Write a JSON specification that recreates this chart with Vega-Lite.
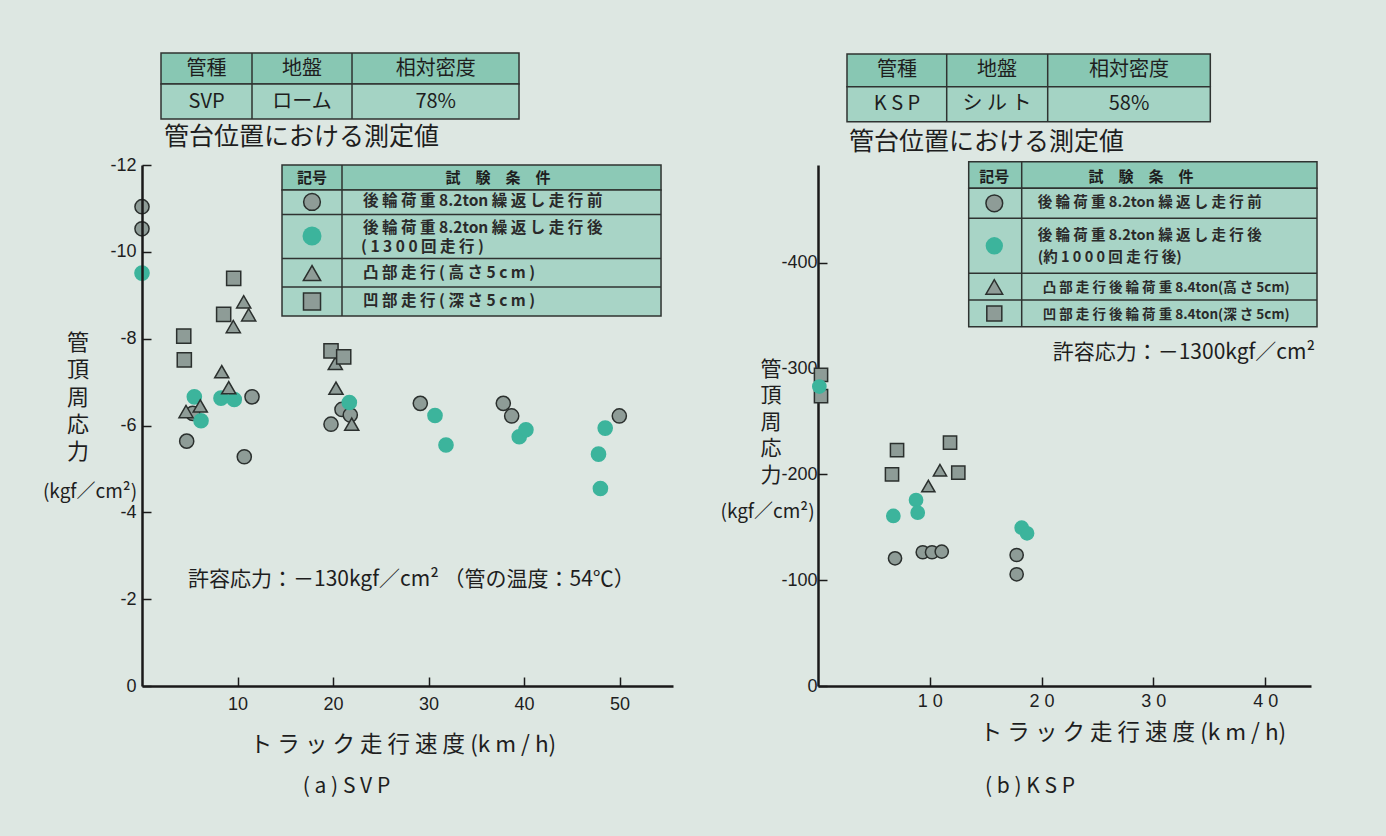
{
  "$schema": "https://vega.github.io/schema/vega-lite/v6.json",
  "padding": 0,
  "autosize": {"type": "pad"},
  "bounds": "flush",
  "spacing": 145,
  "background": "#dde7e2",
  "config": {
    "view": {"stroke": null},
    "text": {"font": "Noto Sans CJK JP", "fill": "#1e1e1e", "baseline": "middle", "align": "center", "fontSize": 20},
    "rule": {"stroke": "#2f3331", "strokeWidth": 1.5},
    "rect": {"stroke": "#2f3331", "strokeWidth": 1.5},
    "axis": {
      "grid": false, "title": null, "domainColor": "#1a1a1a", "domainWidth": 2.5,
      "tickColor": "#1a1a1a", "tickWidth": 1.5, "tickSize": -9,
      "labelFont": "Liberation Sans", "labelFontSize": 18, "labelColor": "#1e1e1e",
      "labelFlush": false, "labelOverlap": false
    }
  },
  "datasets": {
    "one": [{}],
    "svp": [
      {"speed": 0, "stress": -11.04, "cond": "走行前"},
      {"speed": 0, "stress": -10.53, "cond": "走行前"},
      {"speed": 4.68, "stress": -5.64, "cond": "走行前"},
      {"speed": 5.31, "stress": -6.28, "cond": "走行前"},
      {"speed": 11.52, "stress": -6.66, "cond": "走行前"},
      {"speed": 10.71, "stress": -5.28, "cond": "走行前"},
      {"speed": 19.79, "stress": -6.03, "cond": "走行前"},
      {"speed": 20.94, "stress": -6.37, "cond": "走行前"},
      {"speed": 21.81, "stress": -6.24, "cond": "走行前"},
      {"speed": 29.14, "stress": -6.51, "cond": "走行前"},
      {"speed": 37.83, "stress": -6.51, "cond": "走行前"},
      {"speed": 38.71, "stress": -6.22, "cond": "走行前"},
      {"speed": 49.98, "stress": -6.22, "cond": "走行前"},
      {"speed": 0, "stress": -9.51, "cond": "走行後"},
      {"speed": 5.48, "stress": -6.66, "cond": "走行後"},
      {"speed": 6.18, "stress": -6.11, "cond": "走行後"},
      {"speed": 8.27, "stress": -6.63, "cond": "走行後"},
      {"speed": 9.66, "stress": -6.6, "cond": "走行後"},
      {"speed": 21.71, "stress": -6.53, "cond": "走行後"},
      {"speed": 30.68, "stress": -6.23, "cond": "走行後"},
      {"speed": 31.83, "stress": -5.55, "cond": "走行後"},
      {"speed": 39.5, "stress": -5.74, "cond": "走行後"},
      {"speed": 40.2, "stress": -5.9, "cond": "走行後"},
      {"speed": 48.5, "stress": -5.94, "cond": "走行後"},
      {"speed": 47.8, "stress": -5.34, "cond": "走行後"},
      {"speed": 48.0, "stress": -4.55, "cond": "走行後"},
      {"speed": 4.61, "stress": -6.32, "cond": "凸部"},
      {"speed": 6.1, "stress": -6.45, "cond": "凸部"},
      {"speed": 8.35, "stress": -7.24, "cond": "凸部"},
      {"speed": 9.08, "stress": -6.87, "cond": "凸部"},
      {"speed": 10.65, "stress": -8.85, "cond": "凸部"},
      {"speed": 11.17, "stress": -8.55, "cond": "凸部"},
      {"speed": 9.56, "stress": -8.28, "cond": "凸部"},
      {"speed": 20.24, "stress": -7.43, "cond": "凸部"},
      {"speed": 20.31, "stress": -6.86, "cond": "凸部"},
      {"speed": 21.96, "stress": -6.03, "cond": "凸部"},
      {"speed": 4.37, "stress": -8.06, "cond": "凹部"},
      {"speed": 4.43, "stress": -7.51, "cond": "凹部"},
      {"speed": 9.6, "stress": -9.39, "cond": "凹部"},
      {"speed": 8.55, "stress": -8.56, "cond": "凹部"},
      {"speed": 19.79, "stress": -7.72, "cond": "凹部"},
      {"speed": 21.12, "stress": -7.58, "cond": "凹部"}
    ],
    "ksp": [
      {"speed": 0.27, "stress": -294, "cond": "凹部"},
      {"speed": 0.27, "stress": -274, "cond": "凹部"},
      {"speed": 7.07, "stress": -223, "cond": "凹部"},
      {"speed": 6.62, "stress": -200, "cond": "凹部"},
      {"speed": 11.81, "stress": -230, "cond": "凹部"},
      {"speed": 12.55, "stress": -201.6, "cond": "凹部"},
      {"speed": 6.89, "stress": -120.7, "cond": "走行前"},
      {"speed": 9.37, "stress": -126.4, "cond": "走行前"},
      {"speed": 10.2, "stress": -126.4, "cond": "走行前"},
      {"speed": 11.07, "stress": -127, "cond": "走行前"},
      {"speed": 17.77, "stress": -123.8, "cond": "走行前"},
      {"speed": 17.77, "stress": -105.6, "cond": "走行前"},
      {"speed": 10.91, "stress": -204, "cond": "凸部"},
      {"speed": 9.87, "stress": -189, "cond": "凸部"},
      {"speed": 0.12, "stress": -283, "cond": "走行後"},
      {"speed": 6.74, "stress": -160.7, "cond": "走行後"},
      {"speed": 8.77, "stress": -175.8, "cond": "走行後"},
      {"speed": 8.92, "stress": -163.8, "cond": "走行後"},
      {"speed": 18.22, "stress": -149.6, "cond": "走行後"},
      {"speed": 18.7, "stress": -144.3, "cond": "走行後"}
    ]
  },
  "hconcat": [
    {
      "width": 531,
      "height": 521,
      "layer": [
        {"data": {"name": "one"}, "mark": {"type": "rect", "fill": "#dde7e2", "strokeWidth": 0}, "encoding": {"x": {"datum": -14.764, "axis": {"zindex": 1}}, "x2": {"datum": 130.366}, "y": {"datum": -15.8, "axis": {"zindex": 1}}, "y2": {"datum": 3.455}}},

        {"data": {"name": "one"}, "mark": {"type": "rect", "fill": "#88c7b3"}, "encoding": {"x": {"datum": 1.99}, "x2": {"datum": 39.476}, "y": {"datum": -14.58}, "y2": {"datum": -13.865}}},
        {"data": {"name": "one"}, "mark": {"type": "rect", "fill": "#a4d3c4"}, "encoding": {"x": {"datum": 1.99}, "x2": {"datum": 39.476}, "y": {"datum": -13.865}, "y2": {"datum": -13.059}}},
        {"data": {"name": "one"}, "mark": {"type": "rule"}, "encoding": {"x": {"datum": 11.518}, "y": {"datum": -14.58}, "y2": {"datum": -13.059}}},
        {"data": {"name": "one"}, "mark": {"type": "rule"}, "encoding": {"x": {"datum": 21.99}, "y": {"datum": -14.58}, "y2": {"datum": -13.059}}},
        {"data": {"name": "one"}, "mark": {"type": "text", "text": "管種"}, "encoding": {"x": {"datum": 6.754}, "y": {"datum": -14.218}}},
        {"data": {"name": "one"}, "mark": {"type": "text", "text": "地盤"}, "encoding": {"x": {"datum": 16.754}, "y": {"datum": -14.218}}},
        {"data": {"name": "one"}, "mark": {"type": "text", "text": "相対密度"}, "encoding": {"x": {"datum": 30.754}, "y": {"datum": -14.218}}},
        {"data": {"name": "one"}, "mark": {"type": "text", "text": "SVP"}, "encoding": {"x": {"datum": 6.754}, "y": {"datum": -13.462}}},
        {"data": {"name": "one"}, "mark": {"type": "text", "text": "ローム"}, "encoding": {"x": {"datum": 16.754}, "y": {"datum": -13.462}}},
        {"data": {"name": "one"}, "mark": {"type": "text", "text": "78%"}, "encoding": {"x": {"datum": 30.754}, "y": {"datum": -13.462}}},
        {"data": {"name": "one"}, "mark": {"type": "text", "text": "管台位置における測定値", "fontSize": 25, "align": "left"}, "encoding": {"x": {"datum": 2.304}, "y": {"datum": -12.645}}},

        {"data": {"name": "one"}, "mark": {"type": "rect", "fill": "#8cc9b6"}, "encoding": {"x": {"datum": 14.66}, "x2": {"datum": 54.346}, "y": {"datum": -12.0}, "y2": {"datum": -11.424}}},
        {"data": {"name": "one"}, "mark": {"type": "rect", "fill": "#a8d4c6"}, "encoding": {"x": {"datum": 14.66}, "x2": {"datum": 54.346}, "y": {"datum": -11.424}, "y2": {"datum": -8.522}}},
        {"data": {"name": "one"}, "mark": {"type": "rule"}, "encoding": {"x": {"datum": 14.66}, "x2": {"datum": 54.346}, "y": {"datum": -10.86}}},
        {"data": {"name": "one"}, "mark": {"type": "rule"}, "encoding": {"x": {"datum": 14.66}, "x2": {"datum": 54.346}, "y": {"datum": -9.846}}},
        {"data": {"name": "one"}, "mark": {"type": "rule"}, "encoding": {"x": {"datum": 14.66}, "x2": {"datum": 54.346}, "y": {"datum": -9.19}}},
        {"data": {"name": "one"}, "mark": {"type": "rule"}, "encoding": {"x": {"datum": 20.942}, "y": {"datum": -12.0}, "y2": {"datum": -8.522}}},
        {"data": {"name": "one"}, "mark": {"type": "point", "shape": "circle", "filled": true, "fill": "#8e9c97", "stroke": "#2b302e", "strokeWidth": 1.5, "size": 280, "opacity": 1}, "encoding": {"x": {"datum": 17.801}, "y": {"datum": -11.148}}},
        {"data": {"name": "one"}, "mark": {"type": "point", "shape": "circle", "filled": true, "fill": "#3cb49c", "strokeWidth": 0, "size": 360, "opacity": 1}, "encoding": {"x": {"datum": 17.801}, "y": {"datum": -10.365}}},
        {"data": {"name": "one"}, "mark": {"type": "point", "shape": "triangle-up", "filled": true, "fill": "#8e9c97", "stroke": "#2b302e", "strokeWidth": 1.5, "size": 300, "opacity": 1}, "encoding": {"x": {"datum": 17.801}, "y": {"datum": -9.512}}},
        {"data": {"name": "one"}, "mark": {"type": "point", "shape": "square", "filled": true, "fill": "#8e9c97", "stroke": "#2b302e", "strokeWidth": 1.5, "size": 290, "opacity": 1}, "encoding": {"x": {"datum": 17.801}, "y": {"datum": -8.856}}},
        {"data": {"name": "one"}, "mark": {"type": "text", "text": "記号", "fontSize": 15, "fontWeight": "bold"}, "encoding": {"x": {"datum": 17.801}, "y": {"datum": -11.7}}},
        {"data": {"name": "one"}, "mark": {"type": "text", "text": "試　験　条　件", "fontSize": 15, "fontWeight": "bold"}, "encoding": {"x": {"datum": 37.277}, "y": {"datum": -11.7}}},
        {"data": {"name": "one"}, "mark": {"type": "text", "text": "後 輪 荷 重 8.2ton 繰 返 し 走 行 前", "fontSize": 15.5, "fontWeight": "bold", "align": "left", "fill": "#2a2a2a"}, "encoding": {"x": {"datum": 23.141}, "y": {"datum": -11.16}}},
        {"data": {"name": "one"}, "mark": {"type": "text", "text": "後 輪 荷 重 8.2ton 繰 返 し 走 行 後", "fontSize": 15.5, "fontWeight": "bold", "align": "left", "fill": "#2a2a2a"}, "encoding": {"x": {"datum": 23.141}, "y": {"datum": -10.549}}},
        {"data": {"name": "one"}, "mark": {"type": "text", "text": "( 1 3 0 0 回 走 行 )", "fontSize": 15.5, "fontWeight": "bold", "align": "left", "fill": "#2a2a2a"}, "encoding": {"x": {"datum": 22.932}, "y": {"datum": -10.111}}},
        {"data": {"name": "one"}, "mark": {"type": "text", "text": "凸 部 走 行 ( 高 さ 5 c m )", "fontSize": 15.5, "fontWeight": "bold", "align": "left", "fill": "#2a2a2a"}, "encoding": {"x": {"datum": 23.141}, "y": {"datum": -9.512}}},
        {"data": {"name": "one"}, "mark": {"type": "text", "text": "凹 部 走 行 ( 深 さ 5 c m )", "fontSize": 15.5, "fontWeight": "bold", "align": "left", "fill": "#2a2a2a"}, "encoding": {"x": {"datum": 23.141}, "y": {"datum": -8.868}}},

        {"data": {"name": "one"}, "mark": {"type": "text", "text": ["管", "頂", "周", "応", "力"], "fontSize": 22, "lineHeight": 27.3}, "encoding": {"x": {"datum": -6.702}, "y": {"datum": -7.9}}},
        {"data": {"name": "one"}, "mark": {"type": "text", "text": "(kgf／cm²)", "fontSize": 19}, "encoding": {"x": {"datum": -5.445}, "y": {"datum": -4.468}}},
        {"data": {"name": "one"}, "mark": {"type": "text", "text": "ト ラ ッ ク 走 行 速 度 (k m / h)", "fontSize": 22.5}, "encoding": {"x": {"datum": 27.33}, "y": {"datum": 1.359}}},
        {"data": {"name": "one"}, "mark": {"type": "text", "text": "( a ) S V P", "fontSize": 21}, "encoding": {"x": {"datum": 21.41}, "y": {"datum": 2.326}}},
        {"data": {"name": "one"}, "mark": {"type": "text", "text": "許容応力：－130kgf／cm² （管の温度：54℃）", "fontSize": 21, "align": "left"}, "encoding": {"x": {"datum": 4.817}, "y": {"datum": -2.441}}},

        {
          "data": {"name": "svp"},
          "mark": {"type": "point", "filled": true, "size": 200, "strokeWidth": 1.5, "opacity": 1},
          "encoding": {
            "x": {"field": "speed", "type": "quantitative", "scale": {"domain": [0, 55.6], "nice": false, "zero": false}, "axis": {"values": [10, 20, 30, 40, 50], "labelPadding": 18, "zindex": 1}},
            "y": {"field": "stress", "type": "quantitative", "scale": {"domain": [0, -12], "nice": false, "zero": false}, "axis": {"values": [-12, -10, -8, -6, -4, -2, 0], "labelExpr": "'' + datum.value", "labelPadding": 15, "zindex": 1}},
            "shape": {"field": "cond", "type": "nominal", "scale": {"domain": ["走行前", "走行後", "凸部", "凹部"], "range": ["circle", "circle", "triangle-up", "square"]}, "legend": null},
            "fill": {"field": "cond", "type": "nominal", "scale": {"domain": ["走行前", "走行後", "凸部", "凹部"], "range": ["#8e9c97", "#3cb49c", "#8e9c97", "#8e9c97"]}, "legend": null},
            "stroke": {"field": "cond", "type": "nominal", "scale": {"domain": ["走行前", "走行後", "凸部", "凹部"], "range": ["#2b302e", "#3cb49c", "#2b302e", "#2b302e"]}, "legend": null}
          }
        }
      ]
    },
    {
      "width": 493,
      "height": 521,
      "layer": [
        {"data": {"name": "one"}, "mark": {"type": "rect", "fill": "#88c7b3"}, "encoding": {"x": {"datum": 2.594}, "x2": {"datum": 35.093}, "y": {"datum": -597.35}, "y2": {"datum": -566.45}}},
        {"data": {"name": "one"}, "mark": {"type": "rect", "fill": "#a4d3c4"}, "encoding": {"x": {"datum": 2.594}, "x2": {"datum": 35.093}, "y": {"datum": -566.45}, "y2": {"datum": -533.36}}},
        {"data": {"name": "one"}, "mark": {"type": "rule"}, "encoding": {"x": {"datum": 11.513}, "y": {"datum": -597.35}, "y2": {"datum": -533.36}}},
        {"data": {"name": "one"}, "mark": {"type": "rule"}, "encoding": {"x": {"datum": 20.547}, "y": {"datum": -597.35}, "y2": {"datum": -533.36}}},
        {"data": {"name": "one"}, "mark": {"type": "text", "text": "管種"}, "encoding": {"x": {"datum": 7.067}, "y": {"datum": -582.23}}},
        {"data": {"name": "one"}, "mark": {"type": "text", "text": "地盤"}, "encoding": {"x": {"datum": 16.012}, "y": {"datum": -582.23}}},
        {"data": {"name": "one"}, "mark": {"type": "text", "text": "相対密度"}, "encoding": {"x": {"datum": 27.82}, "y": {"datum": -582.23}}},
        {"data": {"name": "one"}, "mark": {"type": "text", "text": "K S P"}, "encoding": {"x": {"datum": 7.067}, "y": {"datum": -550.09}}},
        {"data": {"name": "one"}, "mark": {"type": "text", "text": "シ ル ト"}, "encoding": {"x": {"datum": 16.012}, "y": {"datum": -550.09}}},
        {"data": {"name": "one"}, "mark": {"type": "text", "text": "58%"}, "encoding": {"x": {"datum": 27.82}, "y": {"datum": -550.09}}},
        {"data": {"name": "one"}, "mark": {"type": "text", "text": "管台位置における測定値", "fontSize": 25, "align": "left"}, "encoding": {"x": {"datum": 2.773}, "y": {"datum": -514.46}}},

        {"data": {"name": "one"}, "mark": {"type": "rect", "fill": "#8cc9b6"}, "encoding": {"x": {"datum": 13.481}, "x2": {"datum": 44.637}, "y": {"datum": -495.56}, "y2": {"datum": -470.42}}},
        {"data": {"name": "one"}, "mark": {"type": "rect", "fill": "#a8d4c6"}, "encoding": {"x": {"datum": 13.481}, "x2": {"datum": 44.637}, "y": {"datum": -470.42}, "y2": {"datum": -339.6}}},
        {"data": {"name": "one"}, "mark": {"type": "rule"}, "encoding": {"x": {"datum": 13.481}, "x2": {"datum": 44.637}, "y": {"datum": -442.06}}},
        {"data": {"name": "one"}, "mark": {"type": "rule"}, "encoding": {"x": {"datum": 13.481}, "x2": {"datum": 44.637}, "y": {"datum": -390.08}}},
        {"data": {"name": "one"}, "mark": {"type": "rule"}, "encoding": {"x": {"datum": 13.481}, "x2": {"datum": 44.637}, "y": {"datum": -364.84}}},
        {"data": {"name": "one"}, "mark": {"type": "rule"}, "encoding": {"x": {"datum": 18.222}, "y": {"datum": -495.56}, "y2": {"datum": -339.6}}},
        {"data": {"name": "one"}, "mark": {"type": "point", "shape": "circle", "filled": true, "fill": "#8e9c97", "stroke": "#2b302e", "strokeWidth": 1.5, "size": 280, "opacity": 1}, "encoding": {"x": {"datum": 15.771}, "y": {"datum": -456.24}}},
        {"data": {"name": "one"}, "mark": {"type": "point", "shape": "circle", "filled": true, "fill": "#3cb49c", "strokeWidth": 0, "size": 300, "opacity": 1}, "encoding": {"x": {"datum": 15.771}, "y": {"datum": -416.07}}},
        {"data": {"name": "one"}, "mark": {"type": "point", "shape": "triangle-up", "filled": true, "fill": "#8e9c97", "stroke": "#2b302e", "strokeWidth": 1.5, "size": 280, "opacity": 1}, "encoding": {"x": {"datum": 15.771}, "y": {"datum": -377.13}}},
        {"data": {"name": "one"}, "mark": {"type": "point", "shape": "square", "filled": true, "fill": "#8e9c97", "stroke": "#2b302e", "strokeWidth": 1.5, "size": 225, "opacity": 1}, "encoding": {"x": {"datum": 15.771}, "y": {"datum": -352.08}}},
        {"data": {"name": "one"}, "mark": {"type": "text", "text": "記号", "fontSize": 15, "fontWeight": "bold"}, "encoding": {"x": {"datum": 15.771}, "y": {"datum": -480.81}}},
        {"data": {"name": "one"}, "mark": {"type": "text", "text": "試　験　条　件", "fontSize": 15, "fontWeight": "bold"}, "encoding": {"x": {"datum": 28.894}, "y": {"datum": -480.81}}},
        {"data": {"name": "one"}, "mark": {"type": "text", "text": "後 輪 荷 重 8.2ton 繰 返 し 走 行 前", "fontSize": 14.5, "fontWeight": "bold", "align": "left", "fill": "#2a2a2a"}, "encoding": {"x": {"datum": 19.653}, "y": {"datum": -456.24}}},
        {"data": {"name": "one"}, "mark": {"type": "text", "text": "後 輪 荷 重 8.2ton 繰 返 し 走 行 後", "fontSize": 14.5, "fontWeight": "bold", "align": "left", "fill": "#2a2a2a"}, "encoding": {"x": {"datum": 19.653}, "y": {"datum": -425.33}}},
        {"data": {"name": "one"}, "mark": {"type": "text", "text": "(約 1 0 0 0 回 走 行 後)", "fontSize": 14.5, "fontWeight": "bold", "align": "left", "fill": "#2a2a2a"}, "encoding": {"x": {"datum": 19.653}, "y": {"datum": -404.25}}},
        {"data": {"name": "one"}, "mark": {"type": "text", "text": "凸 部 走 行 後 輪 荷 重 8.4ton(高 さ 5cm)", "fontSize": 13.5, "fontWeight": "bold", "align": "left", "fill": "#2a2a2a"}, "encoding": {"x": {"datum": 20.1}, "y": {"datum": -375.9}}},
        {"data": {"name": "one"}, "mark": {"type": "text", "text": "凹 部 走 行 後 輪 荷 重 8.4ton(深 さ 5cm)", "fontSize": 13.5, "fontWeight": "bold", "align": "left", "fill": "#2a2a2a"}, "encoding": {"x": {"datum": 20.1}, "y": {"datum": -350.66}}},
        {"data": {"name": "one"}, "mark": {"type": "text", "text": "許容応力：－1300kgf／cm²", "fontSize": 21, "align": "left"}, "encoding": {"x": {"datum": 20.995}, "y": {"datum": -314.46}}},

        {"data": {"name": "one"}, "mark": {"type": "text", "text": ["管", "頂", "周", "応", "力"], "fontSize": 21, "lineHeight": 26.5}, "encoding": {"x": {"datum": -4.204}, "y": {"datum": -298.68}}},
        {"data": {"name": "one"}, "mark": {"type": "text", "text": "(kgf／cm²)", "fontSize": 19}, "encoding": {"x": {"datum": -4.517}, "y": {"datum": -164.46}}},
        {"data": {"name": "one"}, "mark": {"type": "text", "text": "ト ラ ッ ク 走 行 速 度 (k m / h)", "fontSize": 22.5}, "encoding": {"x": {"datum": 28.178}, "y": {"datum": 44.42}}},
        {"data": {"name": "one"}, "mark": {"type": "text", "text": "( b ) K S P", "fontSize": 21}, "encoding": {"x": {"datum": 18.964}, "y": {"datum": 95.46}}},

        {
          "data": {"name": "ksp"},
          "mark": {"type": "point", "filled": true, "size": 175, "strokeWidth": 1.5, "opacity": 1},
          "encoding": {
            "x": {"field": "speed", "type": "quantitative", "scale": {"domain": [0, 44.1], "nice": false, "zero": false}, "axis": {"values": [10, 20, 30, 40], "labelExpr": "floor(datum.value / 10) + ' 0'", "labelPadding": 15}},
            "y": {"field": "stress", "type": "quantitative", "scale": {"domain": [0, -492.4], "nice": false, "zero": false}, "axis": {"values": [-400, -300, -200, -100, 0], "labelExpr": "'' + datum.value", "labelPadding": 10}},
            "shape": {"field": "cond", "type": "nominal", "scale": {"domain": ["走行前", "走行後", "凸部", "凹部"], "range": ["circle", "circle", "triangle-up", "square"]}, "legend": null},
            "fill": {"field": "cond", "type": "nominal", "scale": {"domain": ["走行前", "走行後", "凸部", "凹部"], "range": ["#8e9c97", "#3cb49c", "#8e9c97", "#8e9c97"]}, "legend": null},
            "stroke": {"field": "cond", "type": "nominal", "scale": {"domain": ["走行前", "走行後", "凸部", "凹部"], "range": ["#2b302e", "#3cb49c", "#2b302e", "#2b302e"]}, "legend": null}
          }
        }
      ]
    }
  ]
}
